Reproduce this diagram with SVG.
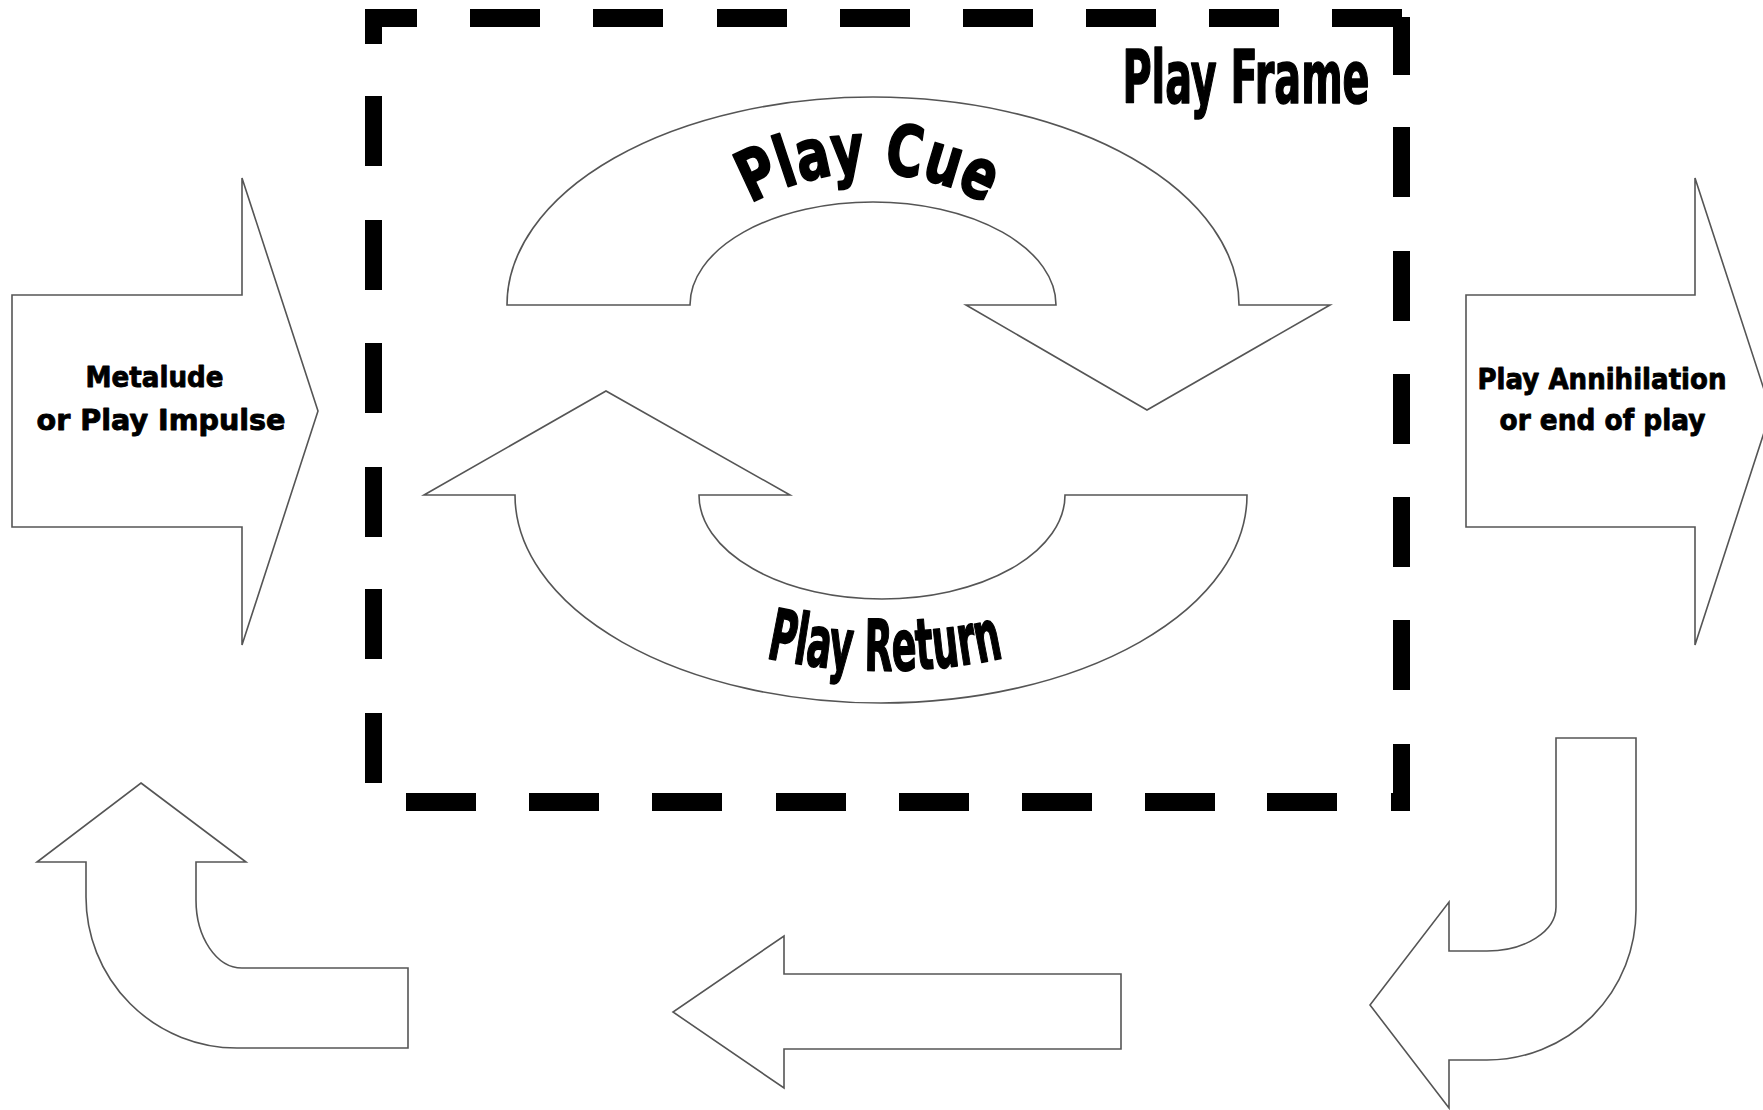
<svg xmlns="http://www.w3.org/2000/svg" width="1763" height="1110" viewBox="0 0 1763 1110">
  <style>
    .bg { fill: #ffffff; }
    .shape { fill: #ffffff; stroke: #555555; stroke-width: 1.6; stroke-linejoin: miter; }
    .dash { fill: #000000; }
    .label { font-family: "DejaVu Sans", "Liberation Sans", sans-serif; font-weight: bold; fill: #000000; stroke: #000000; stroke-width: 0.9; stroke-linejoin: round; }
    .big { stroke-width: 1.8; }
    .cond { font-family: "DejaVu Sans Condensed", "DejaVu Sans", "Liberation Sans", sans-serif; font-stretch: condensed; font-weight: bold; fill: #000000; stroke: #000000; stroke-width: 1.6; stroke-linejoin: round; }
  </style>
  <defs>
    <!-- baselines for the curved labels -->
    <path id="cueArc" d="M628,413 A240,240 0 0 1 1108,413"/>
    <path id="returnArc" d="M740,651.5 A557,557 0 0 0 1030,651.5"/>
  </defs>

  <rect class="bg" x="0" y="0" width="1763" height="1110"/>

  <!-- dashed play frame -->
  <g id="play-frame">
    <!-- top edge -->
    <rect class="dash" x="365" y="9" width="52" height="18"/>
    <rect class="dash" x="470" y="9" width="70" height="18"/>
    <rect class="dash" x="593" y="9" width="70" height="18"/>
    <rect class="dash" x="717" y="9" width="70" height="18"/>
    <rect class="dash" x="840" y="9" width="70" height="18"/>
    <rect class="dash" x="963" y="9" width="70" height="18"/>
    <rect class="dash" x="1086" y="9" width="70" height="18"/>
    <rect class="dash" x="1209" y="9" width="70" height="18"/>
    <rect class="dash" x="1332" y="9" width="70" height="18"/>
    <!-- left edge -->
    <rect class="dash" x="365" y="9" width="17" height="35"/>
    <rect class="dash" x="365" y="96" width="17" height="70"/>
    <rect class="dash" x="365" y="220" width="17" height="70"/>
    <rect class="dash" x="365" y="343" width="17" height="70"/>
    <rect class="dash" x="365" y="467" width="17" height="70"/>
    <rect class="dash" x="365" y="589" width="17" height="70"/>
    <rect class="dash" x="365" y="713" width="17" height="70"/>
    <!-- right edge -->
    <rect class="dash" x="1393" y="17" width="17" height="58"/>
    <rect class="dash" x="1393" y="127" width="17" height="70"/>
    <rect class="dash" x="1393" y="251" width="17" height="70"/>
    <rect class="dash" x="1393" y="374" width="17" height="70"/>
    <rect class="dash" x="1393" y="497" width="17" height="70"/>
    <rect class="dash" x="1393" y="620" width="17" height="70"/>
    <rect class="dash" x="1393" y="744" width="17" height="67"/>
    <!-- bottom edge -->
    <rect class="dash" x="406" y="793" width="70" height="18"/>
    <rect class="dash" x="529" y="793" width="70" height="18"/>
    <rect class="dash" x="652" y="793" width="70" height="18"/>
    <rect class="dash" x="776" y="793" width="70" height="18"/>
    <rect class="dash" x="899" y="793" width="70" height="18"/>
    <rect class="dash" x="1022" y="793" width="70" height="18"/>
    <rect class="dash" x="1145" y="793" width="70" height="18"/>
    <rect class="dash" x="1267" y="793" width="70" height="18"/>
    <rect class="dash" x="1391" y="793" width="19" height="18"/>
    <text class="cond" x="1246" y="103" font-size="73" text-anchor="middle" textLength="247" lengthAdjust="spacingAndGlyphs">Play Frame</text>
  </g>

  <!-- entry arrow -->
  <g id="metalude">
    <path class="shape" d="M12,295 H242 V178 L318,411 L242,645 V527 H12 Z"/>
    <text class="label" x="154.5" y="387" font-size="29" text-anchor="middle" textLength="138" lengthAdjust="spacingAndGlyphs">Metalude</text>
    <text class="label" x="161" y="430" font-size="29" text-anchor="middle" textLength="249" lengthAdjust="spacingAndGlyphs">or Play Impulse</text>
  </g>

  <!-- exit arrow -->
  <g id="play-annihilation">
    <path class="shape" d="M1466,295 H1695 V178 L1771,411 L1695,645 V527 H1466 Z"/>
    <text class="label" x="1602" y="389" font-size="29" text-anchor="middle" textLength="249" lengthAdjust="spacingAndGlyphs">Play Annihilation</text>
    <text class="label" x="1602.5" y="430" font-size="29" text-anchor="middle" textLength="206" lengthAdjust="spacingAndGlyphs">or end of play</text>
  </g>

  <!-- upper curved arrow -->
  <g id="play-cue">
    <path class="shape" d="M507,305 A366,208 0 0 1 1239,305 H1330 L1147,410 L966,305 H1056 A183,103 0 0 0 690,305 Z"/>
    <text class="label big" font-size="70"><textPath href="#cueArc" startOffset="50%" text-anchor="middle" textLength="246" lengthAdjust="spacingAndGlyphs">Play Cue</textPath></text>
  </g>

  <!-- lower curved arrow -->
  <g id="play-return">
    <path class="shape" d="M1065,495 H1247 A366,208 0 0 1 515,495 H424 L606,391 L790,495 H699 A183,104 0 0 0 1065,495 Z"/>
    <text class="cond" font-size="71"><textPath href="#returnArc" startOffset="50%" text-anchor="middle" textLength="240" lengthAdjust="spacingAndGlyphs">Play Return</textPath></text>
  </g>

  <!-- return path back to the start -->
  <g id="connectors">
    <path id="return-bend-right" class="shape" d="M1556,738 H1636 V910 A149,150 0 0 1 1487,1060 H1449 V1108 L1370,1005 L1449,902 V951 H1487 A69,44 0 0 0 1556,907 Z"/>
    <path id="return-straight" class="shape" d="M1121,974 H784 V936 L673,1012 L784,1088 V1049 H1121 Z"/>
    <path id="return-bend-left" class="shape" d="M141,783 L246,862 H196 V900 A46,68 0 0 0 242,968 H408 V1048 H237 A151,151 0 0 1 86,897 V862 H37 Z"/>
  </g>
</svg>
